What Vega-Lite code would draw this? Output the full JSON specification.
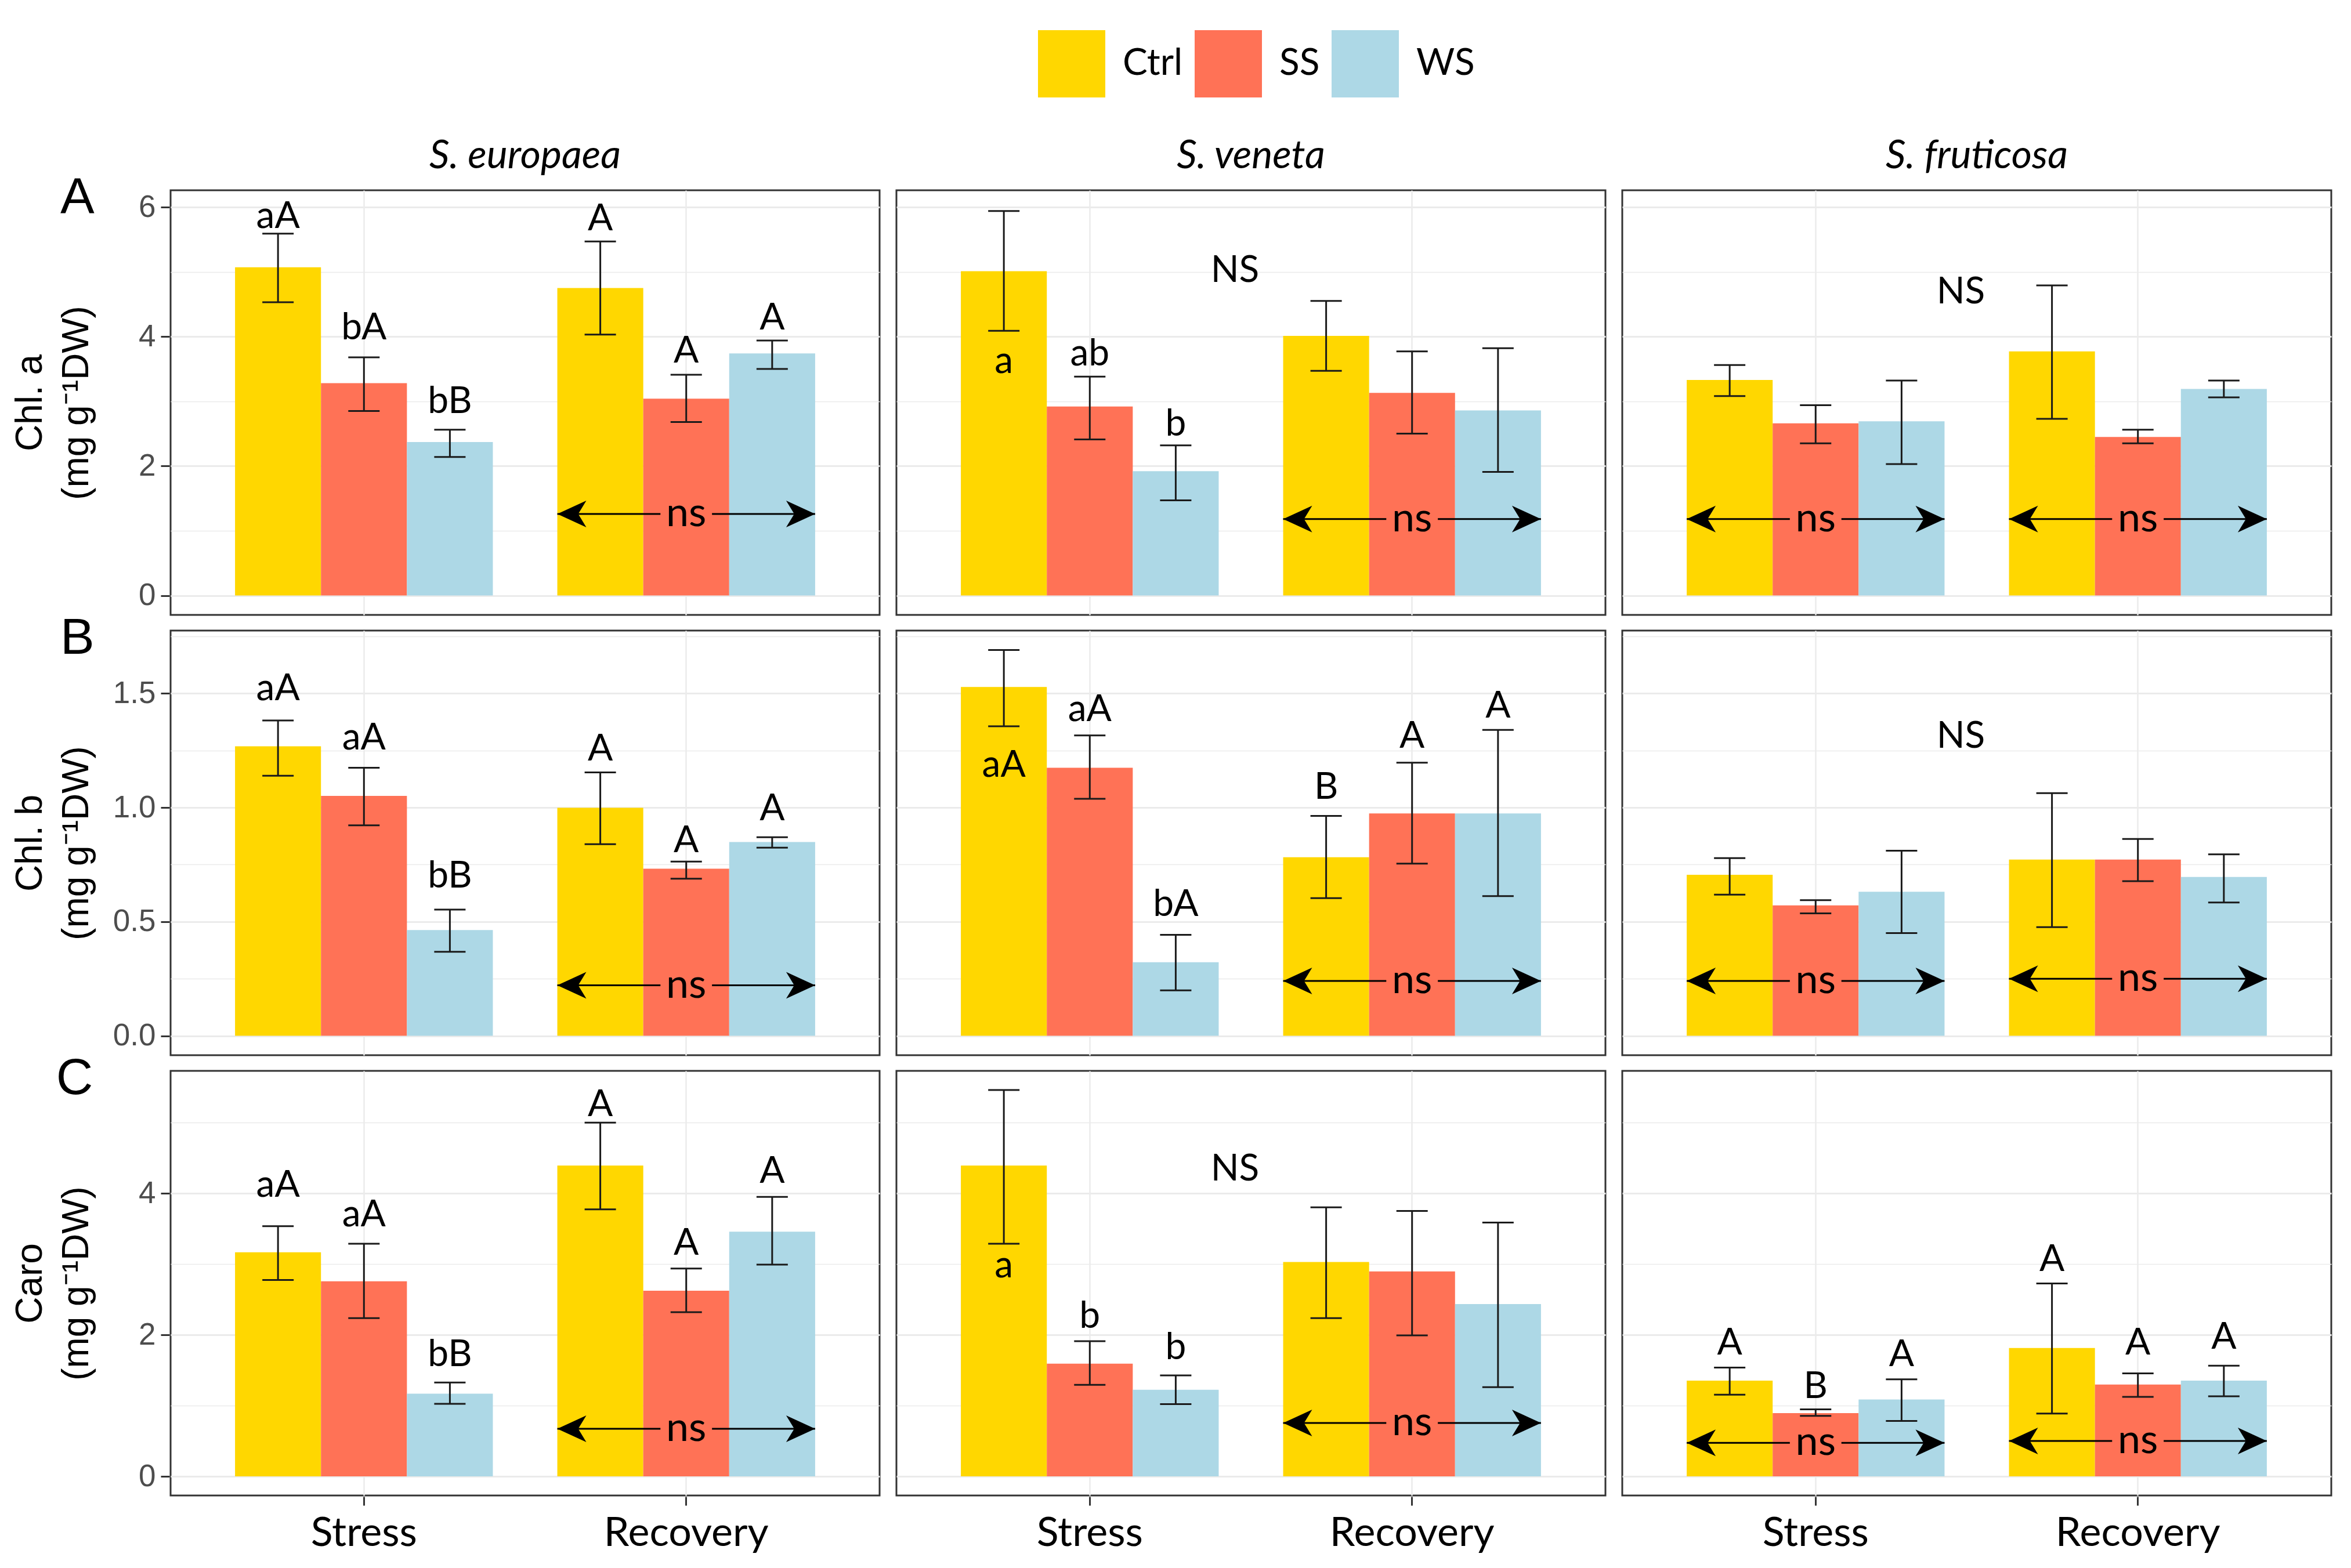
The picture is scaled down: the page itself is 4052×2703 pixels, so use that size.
{
  "$schema": "https://vega.github.io/schema/vega-lite/v6.json",
  "background": "white",
  "padding": {"left": 20, "top": 52, "right": 30, "bottom": 10},
  "datasets": {
    "d": [
      {"k":"bar","pig":"A","sp":"S. europaea","grp":"Stress","trt":"Ctrl","m":5.07,"lo":4.53,"hi":5.59},
      {"k":"bar","pig":"A","sp":"S. europaea","grp":"Stress","trt":"SS","m":3.28,"lo":2.85,"hi":3.68},
      {"k":"bar","pig":"A","sp":"S. europaea","grp":"Stress","trt":"WS","m":2.37,"lo":2.14,"hi":2.56},
      {"k":"bar","pig":"A","sp":"S. europaea","grp":"Recovery","trt":"Ctrl","m":4.75,"lo":4.03,"hi":5.47},
      {"k":"bar","pig":"A","sp":"S. europaea","grp":"Recovery","trt":"SS","m":3.04,"lo":2.68,"hi":3.41},
      {"k":"bar","pig":"A","sp":"S. europaea","grp":"Recovery","trt":"WS","m":3.74,"lo":3.50,"hi":3.94},
      {"k":"bar","pig":"A","sp":"S. veneta","grp":"Stress","trt":"Ctrl","m":5.01,"lo":4.09,"hi":5.94},
      {"k":"bar","pig":"A","sp":"S. veneta","grp":"Stress","trt":"SS","m":2.92,"lo":2.41,"hi":3.38},
      {"k":"bar","pig":"A","sp":"S. veneta","grp":"Stress","trt":"WS","m":1.92,"lo":1.47,"hi":2.32},
      {"k":"bar","pig":"A","sp":"S. veneta","grp":"Recovery","trt":"Ctrl","m":4.01,"lo":3.47,"hi":4.55},
      {"k":"bar","pig":"A","sp":"S. veneta","grp":"Recovery","trt":"SS","m":3.13,"lo":2.50,"hi":3.77},
      {"k":"bar","pig":"A","sp":"S. veneta","grp":"Recovery","trt":"WS","m":2.86,"lo":1.91,"hi":3.82},
      {"k":"bar","pig":"A","sp":"S. fruticosa","grp":"Stress","trt":"Ctrl","m":3.33,"lo":3.08,"hi":3.56},
      {"k":"bar","pig":"A","sp":"S. fruticosa","grp":"Stress","trt":"SS","m":2.66,"lo":2.35,"hi":2.94},
      {"k":"bar","pig":"A","sp":"S. fruticosa","grp":"Stress","trt":"WS","m":2.69,"lo":2.03,"hi":3.32},
      {"k":"bar","pig":"A","sp":"S. fruticosa","grp":"Recovery","trt":"Ctrl","m":3.77,"lo":2.73,"hi":4.79},
      {"k":"bar","pig":"A","sp":"S. fruticosa","grp":"Recovery","trt":"SS","m":2.45,"lo":2.35,"hi":2.56},
      {"k":"bar","pig":"A","sp":"S. fruticosa","grp":"Recovery","trt":"WS","m":3.19,"lo":3.06,"hi":3.32},

      {"k":"bar","pig":"B","sp":"S. europaea","grp":"Stress","trt":"Ctrl","m":1.268,"lo":1.139,"hi":1.381},
      {"k":"bar","pig":"B","sp":"S. europaea","grp":"Stress","trt":"SS","m":1.051,"lo":0.922,"hi":1.174},
      {"k":"bar","pig":"B","sp":"S. europaea","grp":"Stress","trt":"WS","m":0.463,"lo":0.368,"hi":0.553},
      {"k":"bar","pig":"B","sp":"S. europaea","grp":"Recovery","trt":"Ctrl","m":0.999,"lo":0.839,"hi":1.154},
      {"k":"bar","pig":"B","sp":"S. europaea","grp":"Recovery","trt":"SS","m":0.732,"lo":0.688,"hi":0.763},
      {"k":"bar","pig":"B","sp":"S. europaea","grp":"Recovery","trt":"WS","m":0.849,"lo":0.824,"hi":0.870},
      {"k":"bar","pig":"B","sp":"S. veneta","grp":"Stress","trt":"Ctrl","m":1.528,"lo":1.356,"hi":1.690},
      {"k":"bar","pig":"B","sp":"S. veneta","grp":"Stress","trt":"SS","m":1.174,"lo":1.038,"hi":1.316},
      {"k":"bar","pig":"B","sp":"S. veneta","grp":"Stress","trt":"WS","m":0.322,"lo":0.199,"hi":0.442},
      {"k":"bar","pig":"B","sp":"S. veneta","grp":"Recovery","trt":"Ctrl","m":0.782,"lo":0.603,"hi":0.963},
      {"k":"bar","pig":"B","sp":"S. veneta","grp":"Recovery","trt":"SS","m":0.974,"lo":0.754,"hi":1.196},
      {"k":"bar","pig":"B","sp":"S. veneta","grp":"Recovery","trt":"WS","m":0.974,"lo":0.612,"hi":1.340},
      {"k":"bar","pig":"B","sp":"S. fruticosa","grp":"Stress","trt":"Ctrl","m":0.705,"lo":0.618,"hi":0.778},
      {"k":"bar","pig":"B","sp":"S. fruticosa","grp":"Stress","trt":"SS","m":0.571,"lo":0.536,"hi":0.594},
      {"k":"bar","pig":"B","sp":"S. fruticosa","grp":"Stress","trt":"WS","m":0.631,"lo":0.450,"hi":0.811},
      {"k":"bar","pig":"B","sp":"S. fruticosa","grp":"Recovery","trt":"Ctrl","m":0.772,"lo":0.476,"hi":1.063},
      {"k":"bar","pig":"B","sp":"S. fruticosa","grp":"Recovery","trt":"SS","m":0.772,"lo":0.677,"hi":0.862},
      {"k":"bar","pig":"B","sp":"S. fruticosa","grp":"Recovery","trt":"WS","m":0.696,"lo":0.584,"hi":0.795},

      {"k":"bar","pig":"C","sp":"S. europaea","grp":"Stress","trt":"Ctrl","m":3.167,"lo":2.776,"hi":3.535},
      {"k":"bar","pig":"C","sp":"S. europaea","grp":"Stress","trt":"SS","m":2.757,"lo":2.237,"hi":3.287},
      {"k":"bar","pig":"C","sp":"S. europaea","grp":"Stress","trt":"WS","m":1.169,"lo":1.026,"hi":1.326},
      {"k":"bar","pig":"C","sp":"S. europaea","grp":"Recovery","trt":"Ctrl","m":4.391,"lo":3.774,"hi":4.999},
      {"k":"bar","pig":"C","sp":"S. europaea","grp":"Recovery","trt":"SS","m":2.624,"lo":2.320,"hi":2.937},
      {"k":"bar","pig":"C","sp":"S. europaea","grp":"Recovery","trt":"WS","m":3.457,"lo":2.992,"hi":3.949},
      {"k":"bar","pig":"C","sp":"S. veneta","grp":"Stress","trt":"Ctrl","m":4.391,"lo":3.287,"hi":5.459},
      {"k":"bar","pig":"C","sp":"S. veneta","grp":"Stress","trt":"SS","m":1.593,"lo":1.293,"hi":1.910},
      {"k":"bar","pig":"C","sp":"S. veneta","grp":"Stress","trt":"WS","m":1.224,"lo":1.022,"hi":1.427},
      {"k":"bar","pig":"C","sp":"S. veneta","grp":"Recovery","trt":"Ctrl","m":3.029,"lo":2.237,"hi":3.802},
      {"k":"bar","pig":"C","sp":"S. veneta","grp":"Recovery","trt":"SS","m":2.895,"lo":1.993,"hi":3.751},
      {"k":"bar","pig":"C","sp":"S. veneta","grp":"Recovery","trt":"WS","m":2.435,"lo":1.261,"hi":3.586},
      {"k":"bar","pig":"C","sp":"S. fruticosa","grp":"Stress","trt":"Ctrl","m":1.353,"lo":1.155,"hi":1.537},
      {"k":"bar","pig":"C","sp":"S. fruticosa","grp":"Stress","trt":"SS","m":0.893,"lo":0.856,"hi":0.948},
      {"k":"bar","pig":"C","sp":"S. fruticosa","grp":"Stress","trt":"WS","m":1.086,"lo":0.783,"hi":1.372},
      {"k":"bar","pig":"C","sp":"S. fruticosa","grp":"Recovery","trt":"Ctrl","m":1.814,"lo":0.888,"hi":2.725},
      {"k":"bar","pig":"C","sp":"S. fruticosa","grp":"Recovery","trt":"SS","m":1.298,"lo":1.123,"hi":1.455},
      {"k":"bar","pig":"C","sp":"S. fruticosa","grp":"Recovery","trt":"WS","m":1.353,"lo":1.132,"hi":1.565},

      {"k":"lab","pig":"A","sp":"S. europaea","grp":"Stress","trt":"Ctrl","lab":"aA","ly":5.68},
      {"k":"lab","pig":"A","sp":"S. europaea","grp":"Stress","trt":"SS","lab":"bA","ly":3.96},
      {"k":"lab","pig":"A","sp":"S. europaea","grp":"Stress","trt":"WS","lab":"bB","ly":2.82},
      {"k":"lab","pig":"A","sp":"S. europaea","grp":"Recovery","trt":"Ctrl","lab":"A","ly":5.64},
      {"k":"lab","pig":"A","sp":"S. europaea","grp":"Recovery","trt":"SS","lab":"A","ly":3.60},
      {"k":"lab","pig":"A","sp":"S. europaea","grp":"Recovery","trt":"WS","lab":"A","ly":4.11},
      {"k":"lab","pig":"A","sp":"S. veneta","grp":"Stress","trt":"Ctrl","lab":"a","ly":3.44},
      {"k":"lab","pig":"A","sp":"S. veneta","grp":"Stress","trt":"SS","lab":"ab","ly":3.55},
      {"k":"lab","pig":"A","sp":"S. veneta","grp":"Stress","trt":"WS","lab":"b","ly":2.47},

      {"k":"lab","pig":"B","sp":"S. europaea","grp":"Stress","trt":"Ctrl","lab":"aA","ly":1.470},
      {"k":"lab","pig":"B","sp":"S. europaea","grp":"Stress","trt":"SS","lab":"aA","ly":1.253},
      {"k":"lab","pig":"B","sp":"S. europaea","grp":"Stress","trt":"WS","lab":"bB","ly":0.650},
      {"k":"lab","pig":"B","sp":"S. europaea","grp":"Recovery","trt":"Ctrl","lab":"A","ly":1.207},
      {"k":"lab","pig":"B","sp":"S. europaea","grp":"Recovery","trt":"SS","lab":"A","ly":0.804},
      {"k":"lab","pig":"B","sp":"S. europaea","grp":"Recovery","trt":"WS","lab":"A","ly":0.945},
      {"k":"lab","pig":"B","sp":"S. veneta","grp":"Stress","trt":"Ctrl","lab":"aA","ly":1.135},
      {"k":"lab","pig":"B","sp":"S. veneta","grp":"Stress","trt":"SS","lab":"aA","ly":1.379},
      {"k":"lab","pig":"B","sp":"S. veneta","grp":"Stress","trt":"WS","lab":"bA","ly":0.526},
      {"k":"lab","pig":"B","sp":"S. veneta","grp":"Recovery","trt":"Ctrl","lab":"B","ly":1.037},
      {"k":"lab","pig":"B","sp":"S. veneta","grp":"Recovery","trt":"SS","lab":"A","ly":1.262},
      {"k":"lab","pig":"B","sp":"S. veneta","grp":"Recovery","trt":"WS","lab":"A","ly":1.394},

      {"k":"lab","pig":"C","sp":"S. europaea","grp":"Stress","trt":"Ctrl","lab":"aA","ly":3.95},
      {"k":"lab","pig":"C","sp":"S. europaea","grp":"Stress","trt":"SS","lab":"aA","ly":3.535},
      {"k":"lab","pig":"C","sp":"S. europaea","grp":"Stress","trt":"WS","lab":"bB","ly":1.556},
      {"k":"lab","pig":"C","sp":"S. europaea","grp":"Recovery","trt":"Ctrl","lab":"A","ly":5.09},
      {"k":"lab","pig":"C","sp":"S. europaea","grp":"Recovery","trt":"SS","lab":"A","ly":3.13},
      {"k":"lab","pig":"C","sp":"S. europaea","grp":"Recovery","trt":"WS","lab":"A","ly":4.147},
      {"k":"lab","pig":"C","sp":"S. veneta","grp":"Stress","trt":"Ctrl","lab":"a","ly":2.81},
      {"k":"lab","pig":"C","sp":"S. veneta","grp":"Stress","trt":"SS","lab":"b","ly":2.10},
      {"k":"lab","pig":"C","sp":"S. veneta","grp":"Stress","trt":"WS","lab":"b","ly":1.66},
      {"k":"lab","pig":"C","sp":"S. fruticosa","grp":"Stress","trt":"Ctrl","lab":"A","ly":1.72},
      {"k":"lab","pig":"C","sp":"S. fruticosa","grp":"Stress","trt":"SS","lab":"B","ly":1.109},
      {"k":"lab","pig":"C","sp":"S. fruticosa","grp":"Stress","trt":"WS","lab":"A","ly":1.556},
      {"k":"lab","pig":"C","sp":"S. fruticosa","grp":"Recovery","trt":"Ctrl","lab":"A","ly":2.905},
      {"k":"lab","pig":"C","sp":"S. fruticosa","grp":"Recovery","trt":"SS","lab":"A","ly":1.72},
      {"k":"lab","pig":"C","sp":"S. fruticosa","grp":"Recovery","trt":"WS","lab":"A","ly":1.80},

      {"k":"NS","pig":"A","sp":"S. veneta","grp":"Stress","lab":"NS","ly":4.84},
      {"k":"NS","pig":"A","sp":"S. fruticosa","grp":"Stress","lab":"NS","ly":4.51},
      {"k":"NS","pig":"B","sp":"S. fruticosa","grp":"Stress","lab":"NS","ly":1.262},
      {"k":"NS","pig":"C","sp":"S. veneta","grp":"Stress","lab":"NS","ly":4.18},

      {"k":"arr","pig":"A","sp":"S. europaea","grp":"Recovery","ly":1.26},
      {"k":"arr","pig":"A","sp":"S. veneta","grp":"Recovery","ly":1.18},
      {"k":"arr","pig":"A","sp":"S. fruticosa","grp":"Stress","ly":1.18},
      {"k":"arr","pig":"A","sp":"S. fruticosa","grp":"Recovery","ly":1.18},
      {"k":"arr","pig":"B","sp":"S. europaea","grp":"Recovery","ly":0.221},
      {"k":"arr","pig":"B","sp":"S. veneta","grp":"Recovery","ly":0.240},
      {"k":"arr","pig":"B","sp":"S. fruticosa","grp":"Stress","ly":0.240},
      {"k":"arr","pig":"B","sp":"S. fruticosa","grp":"Recovery","ly":0.250},
      {"k":"arr","pig":"C","sp":"S. europaea","grp":"Recovery","ly":0.672},
      {"k":"arr","pig":"C","sp":"S. veneta","grp":"Recovery","ly":0.755},
      {"k":"arr","pig":"C","sp":"S. fruticosa","grp":"Stress","ly":0.474},
      {"k":"arr","pig":"C","sp":"S. fruticosa","grp":"Recovery","ly":0.500}
    ]
  },
  "config": {
    "view": {"stroke": "#333333", "strokeWidth": 3},
    "axis": {
      "gridColor": "#ebebeb",
      "domain": false,
      "tickColor": "#333333",
      "tickWidth": 3,
      "tickSize": 15,
      "labelFont": "Liberation Sans",
      "labelFontSize": 53,
      "labelColor": "#4d4d4d",
      "labelPadding": 9,
      "labelLimit": 1000,
      "titleFont": "Liberation Sans",
      "titleFontSize": 64,
      "titleFontWeight": "normal",
      "titleColor": "black",
      "titleLineHeight": 80
    },
    "header": {
      "labelFont": "Lato",
      "labelFontSize": 68,
      "labelFontStyle": "italic",
      "labelColor": "black",
      "labelPadding": -32,
      "labelBaseline": "alphabetic"
    },
    "legend": {
      "orient": "none",
      "direction": "horizontal",
      "legendX": 1495,
      "legendY": -276,
      "symbolType": "square",
      "symbolSize": 13456,
      "symbolStrokeWidth": 0,
      "labelFont": "Lato",
      "labelFontSize": 64,
      "labelColor": "black",
      "labelOffset": 30,
      "columnPadding": 20
    },
    "title": {"font": "Liberation Sans", "fontSize": 88, "fontWeight": "normal", "color": "black"}
  },
  "spacing": -5,
  "resolve": {"scale": {"x": "independent", "y": "independent"}},
  "vconcat": [
    {
      "data": {"name": "d"},
      "transform": [{"filter": "datum.pig === 'A'"}],
      "title": {"text": "A", "orient": "left", "anchor": "end", "angle": 0, "align": "center", "baseline": "top", "offset": -172, "frame": "group", "dy": -30},
      "facet": {"column": {"field": "sp", "type": "nominal", "sort": ["S. europaea", "S. veneta", "S. fruticosa"], "header": {"title": null}}},
      "spacing": 25,
      "spec": {
        "width": 1222,
        "height": 732,
        "layer": [
          {
            "transform": [{"filter": "datum.k === 'bar'"}],
            "mark": {"type": "bar"},
            "encoding": {
              "x": {"field": "grp", "type": "nominal", "sort": ["Stress", "Recovery"], "scale": {"domain": ["Stress", "Recovery"], "paddingInner": 0.2, "paddingOuter": 0.2}, "axis": {"labels": false, "ticks": false, "title": null, "grid": true, "bandPosition": 0.5, "gridWidth": 2.5}},
              "xOffset": {"field": "trt", "type": "nominal", "scale": {"domain": ["Ctrl", "SS", "WS"], "paddingInner": 0, "paddingOuter": 0}},
              "y": {"field": "m", "type": "quantitative", "scale": {"domain": [-0.3, 6.26], "nice": false, "zero": false}, "axis": {"values": [0, 1, 2, 3, 4, 5, 6], "labelExpr": "datum.value % 2 === 0 ? format(datum.value, 'd') : ''", "tickOpacity": {"condition": {"test": "datum.value % 2 !== 0", "value": 0}, "value": 1}, "gridWidth": {"condition": {"test": "datum.value % 2 !== 0", "value": 1.4}, "value": 2.8}, "title": ["Chl. a", "(mg g⁻¹DW)"], "minExtent": 98, "maxExtent": 98, "titlePadding": 30}},
              "y2": {"datum": 0},
              "color": {"field": "trt", "type": "nominal", "scale": {"domain": ["Ctrl", "SS", "WS"], "range": ["#FFD700", "#FF7256", "#ADD8E6"]}, "legend": {"title": null}}
            }
          },
          {
            "transform": [{"filter": "datum.k === 'bar'"}],
            "mark": {"type": "rule", "strokeWidth": 3, "color": "#1a1a1a"},
            "encoding": {
              "x": {"field": "grp", "type": "nominal"},
              "xOffset": {"field": "trt", "type": "nominal"},
              "y": {"field": "lo", "type": "quantitative"},
              "y2": {"field": "hi"}
            }
          },
          {
            "transform": [{"filter": "datum.k === 'bar'"}],
            "mark": {"type": "tick", "orient": "horizontal", "size": 54, "thickness": 3, "color": "#1a1a1a", "opacity": 1},
            "encoding": {"x": {"field": "grp", "type": "nominal"}, "xOffset": {"field": "trt", "type": "nominal"}, "y": {"field": "lo", "type": "quantitative"}}
          },
          {
            "transform": [{"filter": "datum.k === 'bar'"}],
            "mark": {"type": "tick", "orient": "horizontal", "size": 54, "thickness": 3, "color": "#1a1a1a", "opacity": 1},
            "encoding": {"x": {"field": "grp", "type": "nominal"}, "xOffset": {"field": "trt", "type": "nominal"}, "y": {"field": "hi", "type": "quantitative"}}
          },
          {
            "transform": [{"filter": "datum.k === 'lab'"}],
            "mark": {"type": "text", "font": "Lato", "fontSize": 64, "baseline": "alphabetic", "align": "center", "color": "black"},
            "encoding": {"x": {"field": "grp", "type": "nominal"}, "xOffset": {"field": "trt", "type": "nominal"}, "y": {"field": "ly", "type": "quantitative"}, "text": {"field": "lab"}}
          },
          {
            "transform": [{"filter": "datum.k === 'NS'"}],
            "mark": {"type": "text", "font": "Lato", "fontSize": 64, "baseline": "alphabetic", "align": "center", "color": "black", "dx": 28},
            "encoding": {"x": {"field": "grp", "type": "nominal", "bandPosition": 1}, "y": {"field": "ly", "type": "quantitative"}, "text": {"field": "lab"}}
          },
          {
            "transform": [{"filter": "datum.k === 'arr'"}],
            "mark": {"type": "rule", "strokeWidth": 3, "color": "black"},
            "encoding": {"x": {"field": "grp", "type": "nominal", "bandPosition": 0}, "x2": {"field": "grp", "bandPosition": 0.4}, "y": {"field": "ly", "type": "quantitative"}}
          },
          {
            "transform": [{"filter": "datum.k === 'arr'"}],
            "mark": {"type": "rule", "strokeWidth": 3, "color": "black"},
            "encoding": {"x": {"field": "grp", "type": "nominal", "bandPosition": 0.6}, "x2": {"field": "grp", "bandPosition": 1}, "y": {"field": "ly", "type": "quantitative"}}
          },
          {
            "transform": [{"filter": "datum.k === 'arr'"}],
            "mark": {"type": "point", "shape": "M0,0 L1,-0.46 L0.72,0 L1,0.46 Z", "size": 10000, "filled": true, "color": "black", "opacity": 1, "strokeWidth": 0},
            "encoding": {"x": {"field": "grp", "type": "nominal", "bandPosition": 0}, "y": {"field": "ly", "type": "quantitative"}}
          },
          {
            "transform": [{"filter": "datum.k === 'arr'"}],
            "mark": {"type": "point", "shape": "M0,0 L-1,-0.46 L-0.72,0 L-1,0.46 Z", "size": 10000, "filled": true, "color": "black", "opacity": 1, "strokeWidth": 0},
            "encoding": {"x": {"field": "grp", "type": "nominal", "bandPosition": 1}, "y": {"field": "ly", "type": "quantitative"}}
          },
          {
            "transform": [{"filter": "datum.k === 'arr'"}],
            "mark": {"type": "text", "font": "Lato", "fontSize": 70, "baseline": "middle", "align": "center", "color": "black"},
            "encoding": {"x": {"field": "grp", "type": "nominal"}, "y": {"field": "ly", "type": "quantitative"}, "text": {"value": "ns"}}
          }
        ]
      }
    },
    {
      "data": {"name": "d"},
      "transform": [{"filter": "datum.pig === 'B'"}],
      "title": {"text": "B", "orient": "left", "anchor": "end", "angle": 0, "align": "center", "baseline": "top", "offset": -172, "frame": "group", "dy": -30},
      "facet": {"column": {"field": "sp", "type": "nominal", "sort": ["S. europaea", "S. veneta", "S. fruticosa"], "header": null}},
      "spacing": 25,
      "spec": {
        "width": 1222,
        "height": 732,
        "layer": [
          {
            "transform": [{"filter": "datum.k === 'bar'"}],
            "mark": {"type": "bar"},
            "encoding": {
              "x": {"field": "grp", "type": "nominal", "sort": ["Stress", "Recovery"], "scale": {"domain": ["Stress", "Recovery"], "paddingInner": 0.2, "paddingOuter": 0.2}, "axis": {"labels": false, "ticks": false, "title": null, "grid": true, "bandPosition": 0.5, "gridWidth": 2.5}},
              "xOffset": {"field": "trt", "type": "nominal", "scale": {"domain": ["Ctrl", "SS", "WS"], "paddingInner": 0, "paddingOuter": 0}},
              "y": {"field": "m", "type": "quantitative", "scale": {"domain": [-0.085, 1.775], "nice": false, "zero": false}, "axis": {"values": [0, 0.25, 0.5, 0.75, 1, 1.25, 1.5, 1.75], "labelExpr": "(datum.value * 4) % 2 === 0 ? format(datum.value, '.1f') : ''", "tickOpacity": {"condition": {"test": "(datum.value * 4) % 2 !== 0", "value": 0}, "value": 1}, "gridWidth": {"condition": {"test": "(datum.value * 4) % 2 !== 0", "value": 1.4}, "value": 2.8}, "title": ["Chl. b", "(mg g⁻¹DW)"], "minExtent": 98, "maxExtent": 98, "titlePadding": 30}},
              "y2": {"datum": 0},
              "color": {"field": "trt", "type": "nominal", "scale": {"domain": ["Ctrl", "SS", "WS"], "range": ["#FFD700", "#FF7256", "#ADD8E6"]}, "legend": {"title": null}}
            }
          },
          {
            "transform": [{"filter": "datum.k === 'bar'"}],
            "mark": {"type": "rule", "strokeWidth": 3, "color": "#1a1a1a"},
            "encoding": {"x": {"field": "grp", "type": "nominal"}, "xOffset": {"field": "trt", "type": "nominal"}, "y": {"field": "lo", "type": "quantitative"}, "y2": {"field": "hi"}}
          },
          {
            "transform": [{"filter": "datum.k === 'bar'"}],
            "mark": {"type": "tick", "orient": "horizontal", "size": 54, "thickness": 3, "color": "#1a1a1a", "opacity": 1},
            "encoding": {"x": {"field": "grp", "type": "nominal"}, "xOffset": {"field": "trt", "type": "nominal"}, "y": {"field": "lo", "type": "quantitative"}}
          },
          {
            "transform": [{"filter": "datum.k === 'bar'"}],
            "mark": {"type": "tick", "orient": "horizontal", "size": 54, "thickness": 3, "color": "#1a1a1a", "opacity": 1},
            "encoding": {"x": {"field": "grp", "type": "nominal"}, "xOffset": {"field": "trt", "type": "nominal"}, "y": {"field": "hi", "type": "quantitative"}}
          },
          {
            "transform": [{"filter": "datum.k === 'lab'"}],
            "mark": {"type": "text", "font": "Lato", "fontSize": 64, "baseline": "alphabetic", "align": "center", "color": "black"},
            "encoding": {"x": {"field": "grp", "type": "nominal"}, "xOffset": {"field": "trt", "type": "nominal"}, "y": {"field": "ly", "type": "quantitative"}, "text": {"field": "lab"}}
          },
          {
            "transform": [{"filter": "datum.k === 'NS'"}],
            "mark": {"type": "text", "font": "Lato", "fontSize": 64, "baseline": "alphabetic", "align": "center", "color": "black", "dx": 28},
            "encoding": {"x": {"field": "grp", "type": "nominal", "bandPosition": 1}, "y": {"field": "ly", "type": "quantitative"}, "text": {"field": "lab"}}
          },
          {
            "transform": [{"filter": "datum.k === 'arr'"}],
            "mark": {"type": "rule", "strokeWidth": 3, "color": "black"},
            "encoding": {"x": {"field": "grp", "type": "nominal", "bandPosition": 0}, "x2": {"field": "grp", "bandPosition": 0.4}, "y": {"field": "ly", "type": "quantitative"}}
          },
          {
            "transform": [{"filter": "datum.k === 'arr'"}],
            "mark": {"type": "rule", "strokeWidth": 3, "color": "black"},
            "encoding": {"x": {"field": "grp", "type": "nominal", "bandPosition": 0.6}, "x2": {"field": "grp", "bandPosition": 1}, "y": {"field": "ly", "type": "quantitative"}}
          },
          {
            "transform": [{"filter": "datum.k === 'arr'"}],
            "mark": {"type": "point", "shape": "M0,0 L1,-0.46 L0.72,0 L1,0.46 Z", "size": 10000, "filled": true, "color": "black", "opacity": 1, "strokeWidth": 0},
            "encoding": {"x": {"field": "grp", "type": "nominal", "bandPosition": 0}, "y": {"field": "ly", "type": "quantitative"}}
          },
          {
            "transform": [{"filter": "datum.k === 'arr'"}],
            "mark": {"type": "point", "shape": "M0,0 L-1,-0.46 L-0.72,0 L-1,0.46 Z", "size": 10000, "filled": true, "color": "black", "opacity": 1, "strokeWidth": 0},
            "encoding": {"x": {"field": "grp", "type": "nominal", "bandPosition": 1}, "y": {"field": "ly", "type": "quantitative"}}
          },
          {
            "transform": [{"filter": "datum.k === 'arr'"}],
            "mark": {"type": "text", "font": "Lato", "fontSize": 70, "baseline": "middle", "align": "center", "color": "black"},
            "encoding": {"x": {"field": "grp", "type": "nominal"}, "y": {"field": "ly", "type": "quantitative"}, "text": {"value": "ns"}}
          }
        ]
      }
    },
    {
      "data": {"name": "d"},
      "transform": [{"filter": "datum.pig === 'C'"}],
      "title": {"text": "C", "orient": "left", "anchor": "end", "angle": 0, "align": "center", "baseline": "top", "offset": -172, "frame": "group", "dy": -30},
      "facet": {"column": {"field": "sp", "type": "nominal", "sort": ["S. europaea", "S. veneta", "S. fruticosa"], "header": null}},
      "spacing": 25,
      "spec": {
        "width": 1222,
        "height": 732,
        "layer": [
          {
            "transform": [{"filter": "datum.k === 'bar'"}],
            "mark": {"type": "bar"},
            "encoding": {
              "x": {"field": "grp", "type": "nominal", "sort": ["Stress", "Recovery"], "scale": {"domain": ["Stress", "Recovery"], "paddingInner": 0.2, "paddingOuter": 0.2}, "axis": {"labels": true, "ticks": true, "title": null, "grid": true, "bandPosition": 0.5, "gridWidth": 2.5, "labelAngle": 0, "labelFont": "Lato", "labelFontSize": 70, "labelColor": "black", "labelPadding": 14, "labelLimit": 1000}},
              "xOffset": {"field": "trt", "type": "nominal", "scale": {"domain": ["Ctrl", "SS", "WS"], "paddingInner": 0, "paddingOuter": 0}},
              "y": {"field": "m", "type": "quantitative", "scale": {"domain": [-0.27, 5.73], "nice": false, "zero": false}, "axis": {"values": [0, 1, 2, 3, 4, 5], "labelExpr": "datum.value % 2 === 0 ? format(datum.value, 'd') : ''", "tickOpacity": {"condition": {"test": "datum.value % 2 !== 0", "value": 0}, "value": 1}, "gridWidth": {"condition": {"test": "datum.value % 2 !== 0", "value": 1.4}, "value": 2.8}, "title": ["Caro", "(mg g⁻¹DW)"], "minExtent": 98, "maxExtent": 98, "titlePadding": 30}},
              "y2": {"datum": 0},
              "color": {"field": "trt", "type": "nominal", "scale": {"domain": ["Ctrl", "SS", "WS"], "range": ["#FFD700", "#FF7256", "#ADD8E6"]}, "legend": {"title": null}}
            }
          },
          {
            "transform": [{"filter": "datum.k === 'bar'"}],
            "mark": {"type": "rule", "strokeWidth": 3, "color": "#1a1a1a"},
            "encoding": {"x": {"field": "grp", "type": "nominal"}, "xOffset": {"field": "trt", "type": "nominal"}, "y": {"field": "lo", "type": "quantitative"}, "y2": {"field": "hi"}}
          },
          {
            "transform": [{"filter": "datum.k === 'bar'"}],
            "mark": {"type": "tick", "orient": "horizontal", "size": 54, "thickness": 3, "color": "#1a1a1a", "opacity": 1},
            "encoding": {"x": {"field": "grp", "type": "nominal"}, "xOffset": {"field": "trt", "type": "nominal"}, "y": {"field": "lo", "type": "quantitative"}}
          },
          {
            "transform": [{"filter": "datum.k === 'bar'"}],
            "mark": {"type": "tick", "orient": "horizontal", "size": 54, "thickness": 3, "color": "#1a1a1a", "opacity": 1},
            "encoding": {"x": {"field": "grp", "type": "nominal"}, "xOffset": {"field": "trt", "type": "nominal"}, "y": {"field": "hi", "type": "quantitative"}}
          },
          {
            "transform": [{"filter": "datum.k === 'lab'"}],
            "mark": {"type": "text", "font": "Lato", "fontSize": 64, "baseline": "alphabetic", "align": "center", "color": "black"},
            "encoding": {"x": {"field": "grp", "type": "nominal"}, "xOffset": {"field": "trt", "type": "nominal"}, "y": {"field": "ly", "type": "quantitative"}, "text": {"field": "lab"}}
          },
          {
            "transform": [{"filter": "datum.k === 'NS'"}],
            "mark": {"type": "text", "font": "Lato", "fontSize": 64, "baseline": "alphabetic", "align": "center", "color": "black", "dx": 28},
            "encoding": {"x": {"field": "grp", "type": "nominal", "bandPosition": 1}, "y": {"field": "ly", "type": "quantitative"}, "text": {"field": "lab"}}
          },
          {
            "transform": [{"filter": "datum.k === 'arr'"}],
            "mark": {"type": "rule", "strokeWidth": 3, "color": "black"},
            "encoding": {"x": {"field": "grp", "type": "nominal", "bandPosition": 0}, "x2": {"field": "grp", "bandPosition": 0.4}, "y": {"field": "ly", "type": "quantitative"}}
          },
          {
            "transform": [{"filter": "datum.k === 'arr'"}],
            "mark": {"type": "rule", "strokeWidth": 3, "color": "black"},
            "encoding": {"x": {"field": "grp", "type": "nominal", "bandPosition": 0.6}, "x2": {"field": "grp", "bandPosition": 1}, "y": {"field": "ly", "type": "quantitative"}}
          },
          {
            "transform": [{"filter": "datum.k === 'arr'"}],
            "mark": {"type": "point", "shape": "M0,0 L1,-0.46 L0.72,0 L1,0.46 Z", "size": 10000, "filled": true, "color": "black", "opacity": 1, "strokeWidth": 0},
            "encoding": {"x": {"field": "grp", "type": "nominal", "bandPosition": 0}, "y": {"field": "ly", "type": "quantitative"}}
          },
          {
            "transform": [{"filter": "datum.k === 'arr'"}],
            "mark": {"type": "point", "shape": "M0,0 L-1,-0.46 L-0.72,0 L-1,0.46 Z", "size": 10000, "filled": true, "color": "black", "opacity": 1, "strokeWidth": 0},
            "encoding": {"x": {"field": "grp", "type": "nominal", "bandPosition": 1}, "y": {"field": "ly", "type": "quantitative"}}
          },
          {
            "transform": [{"filter": "datum.k === 'arr'"}],
            "mark": {"type": "text", "font": "Lato", "fontSize": 70, "baseline": "middle", "align": "center", "color": "black"},
            "encoding": {"x": {"field": "grp", "type": "nominal"}, "y": {"field": "ly", "type": "quantitative"}, "text": {"value": "ns"}}
          }
        ]
      }
    }
  ]
}
